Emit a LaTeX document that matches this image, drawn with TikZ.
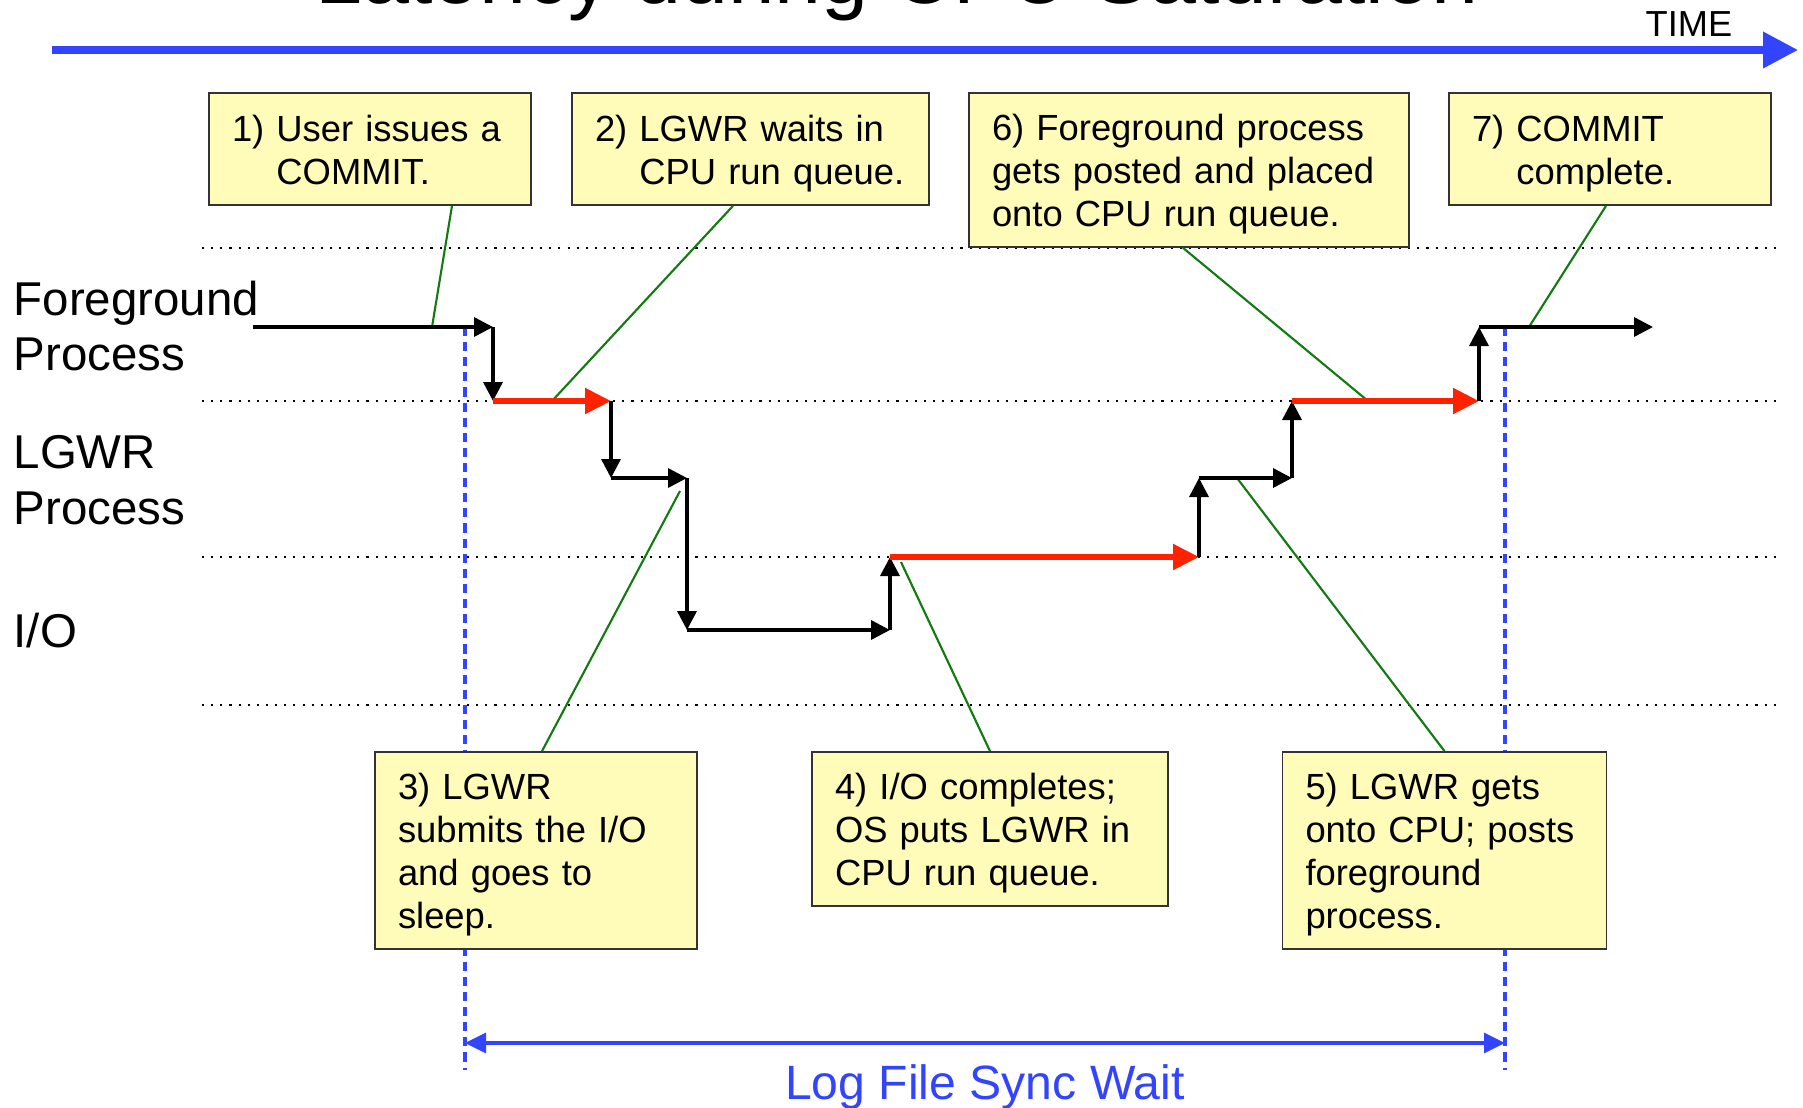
\documentclass[tikz,border=0pt]{standalone}
\usepackage{fontspec}
\setmainfont{Liberation Sans}
\usetikzlibrary{arrows.meta,positioning,calc}
\definecolor{timeblue}{HTML}{3344FF}
\definecolor{runred}{HTML}{FF2200}
\definecolor{callgreen}{HTML}{117A11}
\definecolor{notefill}{HTML}{FFFBB8}
\definecolor{noteline}{HTML}{333333}

\begin{document}
\begin{tikzpicture}[font=\fontsize{10.35}{12.2}\selectfont,
  note/.style={draw=noteline,line width=0.5pt,fill=notefill,align=left,
    inner xsep=0.23cm,inner ysep=0pt,execute at begin node=\rule{0pt}{0.35cm}},
  hop/.style={line width=1pt,-{Triangle[length=0.19cm,width=0.19cm]}},
  runq/.style={runred,line width=1.5pt,-{Triangle[length=0.26cm,width=0.25cm]}},
  callout/.style={callgreen,line width=0.6pt},
  lane/.style={line width=0.6pt,dotted},
  syncline/.style={timeblue,line width=0.9pt,dash pattern=on 2.6pt off 1.7pt},
  lanelabel/.style={font=\fontsize{13.5}{15.9}\selectfont,align=left,inner sep=0pt}]
  \useasboundingbox (0,0) rectangle (18.03,11.07);
  \def\yfg{7.80}
  \def\yrun{7.06}
  \def\ylgwr{6.29}
  \def\yioq{5.50}
  \def\yio{4.77}

  % title and time axis
  \node[anchor=base,font=\fontsize{24}{28}\selectfont] (title) at (8.97,11.035)
    {Latency during CPU Saturation};
  \coordinate (t0) at (0.52,10.57);
  \coordinate (t1) at (17.98,10.57);
  \draw[timeblue,line width=2pt,-{Triangle[length=0.35cm,width=0.35cm]}] (t0) -- (t1);
  \node[anchor=base west,inner sep=0pt,font=\fontsize{10.3}{12}\selectfont] (time)
    at (16.45,10.71) {TIME};

  % lanes
  \draw[lane] (2.02,8.59) -- (17.77,8.59);
  \draw[lane] (2.02,\yrun) -- (17.77,\yrun);
  \draw[lane] (2.02,\yioq) -- (17.77,\yioq);
  \draw[lane] (2.02,4.02) -- (17.77,4.02);

  \node[lanelabel,anchor=west] (lab-fg) at (0.13,7.81) {Foreground\\Process};
  \node[lanelabel,anchor=west] (lab-lgwr) at (0.13,6.265) {LGWR\\Process};
  \node[lanelabel,anchor=base west] (lab-io) at (0.13,4.60) {I/O};

  % log file sync window
  \coordinate (s1-top) at (4.65,\yfg);
  \coordinate (s1-bot) at (4.65,0.37);
  \coordinate (s2-top) at (15.05,\yfg);
  \coordinate (s2-bot) at (15.05,0.37);
  \draw[syncline] (s1-top) -- (s1-bot);
  \draw[syncline] (s2-top) -- (s2-bot);
  \coordinate (sync-l) at (4.65,0.64);
  \coordinate (sync-r) at (15.05,0.64);
  \draw[timeblue,line width=0.95pt,
    {Triangle[length=0.21cm,width=0.2cm]}-{Triangle[length=0.21cm,width=0.2cm]}]
    (sync-l) -- (sync-r);
  \node[anchor=base,inner sep=0pt,text=timeblue,font=\fontsize{13.7}{16}\selectfont]
    (sync) at (9.85,0.08) {Log File Sync Wait};

  % notes
  \node[note,text width=2.76cm,minimum height=1.12cm] (b1) at (3.70,9.58)
    {1) User issues a\\\phantom{1) }COMMIT.};
  \node[note,text width=3.11cm,minimum height=1.12cm] (b2) at (7.505,9.58)
    {2) LGWR waits in\\\mbox{\phantom{2) }CPU run queue.}};
  \node[note,text width=3.94cm,minimum height=1.54cm] (b6) at (11.89,9.37)
    {6) Foreground process\\gets posted and placed\\onto CPU run queue.};
  \node[note,text width=2.76cm,minimum height=1.12cm] (b7) at (16.10,9.58)
    {7) COMMIT\\\phantom{7) }complete.};
  \node[note,text width=2.76cm,minimum height=1.97cm] (b3) at (5.36,2.565)
    {3) LGWR\\submits the I/O\\and goes to\\sleep.};
  \node[note,text width=3.10cm,minimum height=1.54cm] (b4) at (9.90,2.78)
    {4) I/O completes;\\OS puts LGWR in\\CPU run queue.};
  \node[note,text width=2.78cm,minimum height=1.97cm] (b5) at (14.445,2.565)
    {5) LGWR gets\\\mbox{onto CPU; posts}\\foreground\\process.};

  % callouts
  \coordinate (c1) at (4.32,\yfg);
  \coordinate (c2) at (5.52,\yrun);
  \coordinate (c3) at (6.80,6.16);
  \coordinate (c4) at (9.01,5.45);
  \coordinate (c5) at (12.37,\ylgwr);
  \coordinate (c6) at (13.68,\yrun);
  \coordinate (c7) at (15.29,\yfg);
  \draw[callout] ([xshift=0.82cm]b1.south) -- (c1);
  \draw[callout] ([xshift=-0.175cm]b2.south) -- (c2);
  \draw[callout] ([xshift=0.06cm]b3.north) -- (c3);
  \draw[callout] (b4.north) -- (c4);
  \draw[callout] (b5.north) -- (c5);
  \draw[callout] ([xshift=-0.06cm]b6.south) -- (c6);
  \draw[callout] ([xshift=-0.04cm]b7.south) -- (c7);

  % commit path
  \coordinate (p0) at (2.53,\yfg);
  \coordinate (p1) at (4.93,\yfg);
  \coordinate (p2) at (4.93,\yrun);
  \coordinate (p3) at (6.11,\yrun);
  \coordinate (p4) at (6.11,\ylgwr);
  \coordinate (p5) at (6.87,\ylgwr);
  \coordinate (p6) at (6.87,\yio);
  \coordinate (p7) at (8.90,\yio);
  \coordinate (p8) at (8.90,\yioq);
  \coordinate (p9) at (11.99,\yioq);
  \coordinate (p10) at (11.99,\ylgwr);
  \coordinate (p11) at (12.92,\ylgwr);
  \coordinate (p12) at (12.92,\yrun);
  \coordinate (p13) at (14.79,\yrun);
  \coordinate (p14) at (14.79,\yfg);
  \coordinate (p15) at (16.53,\yfg);
  \draw[hop] (p0) -- (p1);
  \draw[hop] (p1) -- (p2);
  \draw[runq] (p2) -- (p3);
  \draw[hop] (p3) -- (p4);
  \draw[hop] (p4) -- (p5);
  \draw[hop] (p5) -- (p6);
  \draw[hop] (p6) -- (p7);
  \draw[hop] (p7) -- (p8);
  \draw[runq] (p8) -- (p9);
  \draw[hop] (p9) -- (p10);
  \draw[hop] (p10) -- (p11);
  \draw[hop] (p11) -- (p12);
  \draw[runq] (p12) -- (p13);
  \draw[hop] (p13) -- (p14);
  \draw[hop] (p14) -- (p15);
\end{tikzpicture}
\end{document}
